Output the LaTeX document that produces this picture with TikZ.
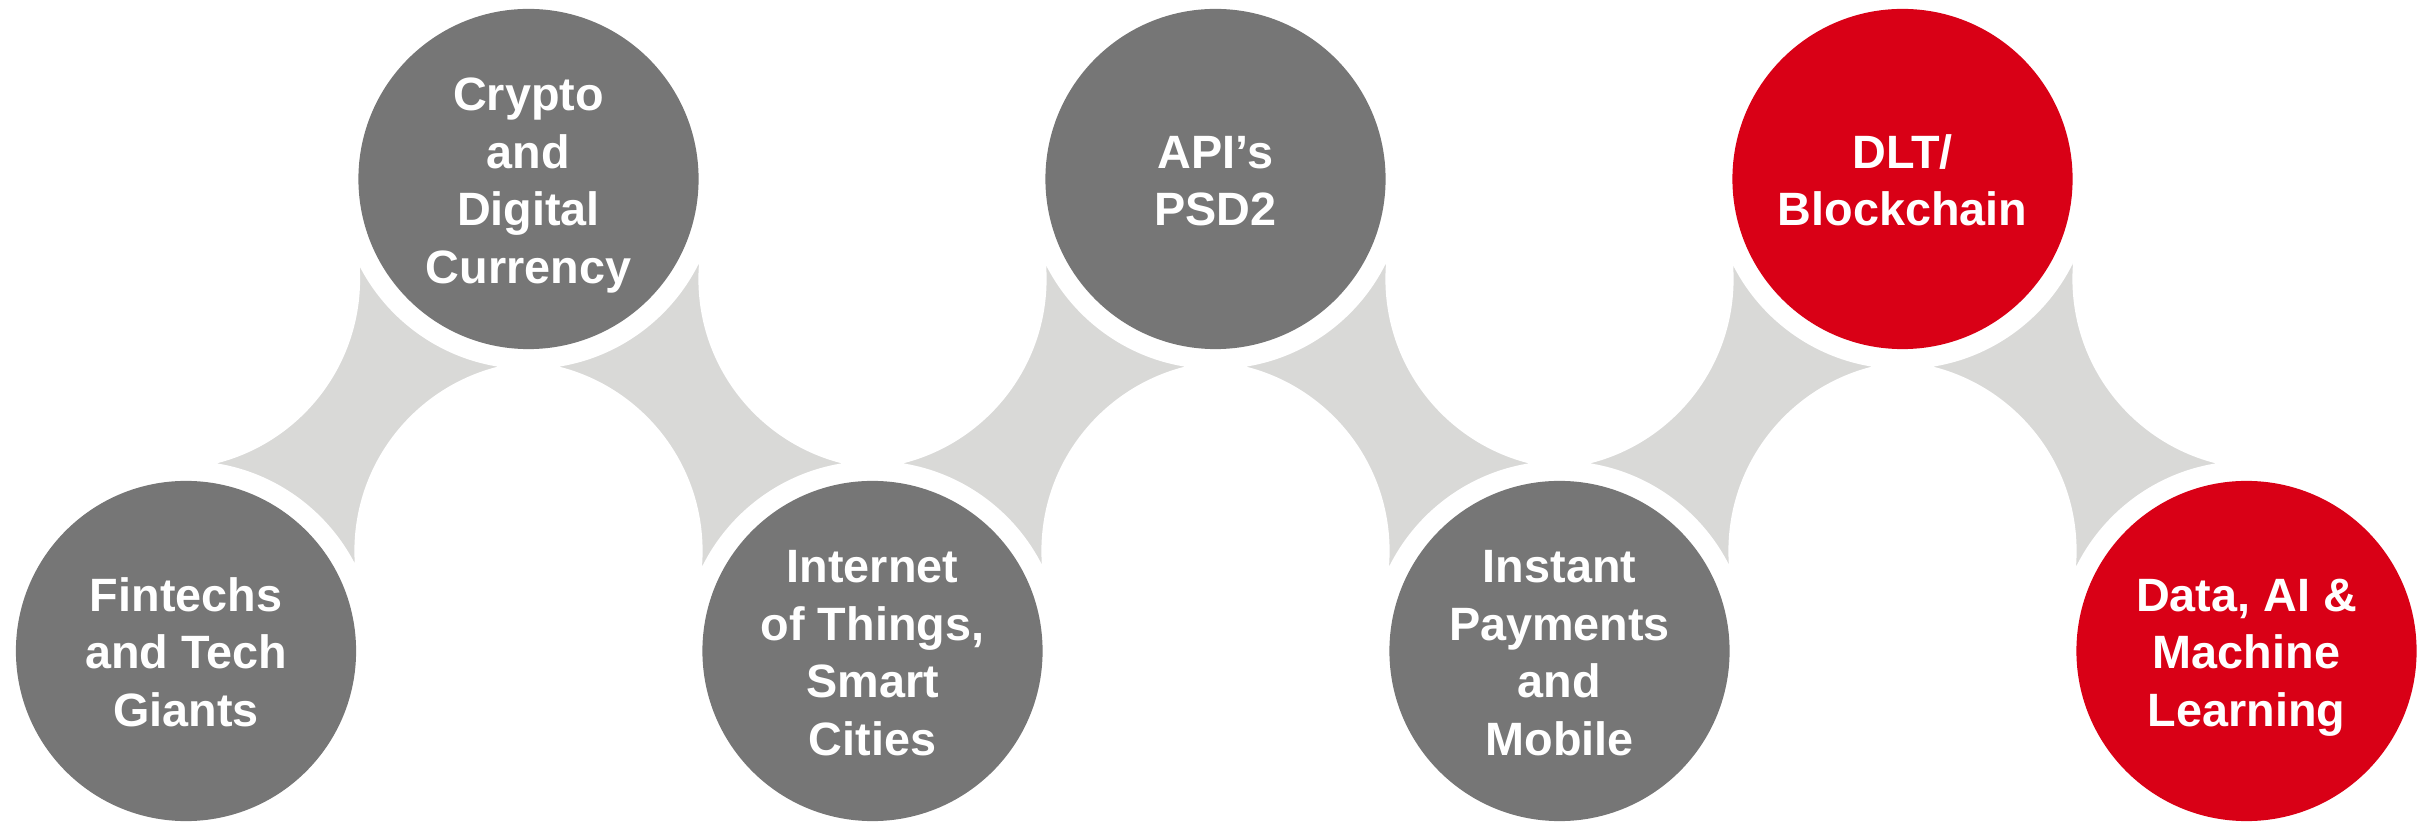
\documentclass[tikz,border=0pt]{standalone}
\usepackage{fontspec}
\setmainfont{Liberation Sans}
\usetikzlibrary{calc,backgrounds}
\definecolor{stagegray}{HTML}{767676}
\definecolor{stagered}{HTML}{D90016}
\definecolor{bandgray}{HTML}{D9D9D7}
% strut that keeps the text block centred on its baselines
\newcommand\tstrut{\rule[-0.19\baselineskip]{0pt}{\baselineskip}}
% grey band between a lower stage (#1) and an upper stage (#2);
% #3/#4 shift the two side circles that shape the concave edges,
% #5 is the turn (-90 or 90) towards the inside of the band
\newcommand\linkband[5]{%
  \coordinate (bA) at ($(#1.center)+(#3,-372)$);
  \coordinate (bC) at ($(#2.center)+(#4,372)$);
  \coordinate (tL) at ($(#1.center)!0.5!(bA)!0.34cm!#5:(bA)$);
  \coordinate (tT) at ($(bA)!0.5!(#2.center)!0.34cm!#5:(#2.center)$);
  \coordinate (tR) at ($(#2.center)!0.5!(bC)!0.34cm!#5:(bC)$);
  \coordinate (tB) at ($(bC)!0.5!(#1.center)!0.34cm!#5:(#1.center)$);
  \fill[bandgray] (tL) -- (tT) -- (tR) -- (tB) -- cycle;
  \begin{scope}
    \clip (#1.center) -- (bA) -- (#2.center) -- (bC) -- cycle;
    \fill[white] (#1.center) circle[radius=1.9cm] (bA) circle[radius=1.9cm]
                 (#2.center) circle[radius=1.9cm] (bC) circle[radius=1.9cm];
  \end{scope}}
\begin{document}
\begin{tikzpicture}[x=0.01cm,y=-0.01cm,
  stage/.style={circle, fill=stagegray, minimum size=3.4cm, inner sep=0pt,
    text=white, align=center, font=\bfseries\fontsize{13.3}{16.36}\selectfont},
  hotstage/.style={stage, fill=stagered}]
\useasboundingbox (0,0) rectangle (2433,822);

\node[stage] (fin) at (186,651) {\tstrut Fintechs\\and Tech\\Giants\tstrut};
\node[stage] (cry) at (528.5,179) {\tstrut Crypto\\and\\Digital\\Currency\tstrut};
\node[stage] (iot) at (872.5,651) {\tstrut Internet\\of Things,\\Smart\\Cities\tstrut};
\node[stage] (api) at (1215.5,179) {\tstrut API’s\\PSD2\tstrut};
\node[stage] (pay) at (1559.5,651) {\tstrut Instant\\Payments\\and\\Mobile\tstrut};
\node[hotstage] (dlt) at (1902.5,179) {\tstrut DLT/\\Blockchain\tstrut};
\node[hotstage] (dai) at (2246.5,651) {\tstrut Data, AI \&\\Machine\\Learning\tstrut};

\begin{scope}[on background layer]
  \linkband{fin}{cry}{-16}{16}{-90}
  \linkband{iot}{cry}{16}{-16}{90}
  \linkband{iot}{api}{-16}{16}{-90}
  \linkband{pay}{api}{16}{-16}{90}
  \linkband{pay}{dlt}{-16}{16}{-90}
  \linkband{dai}{dlt}{16}{-16}{90}
\end{scope}
\end{tikzpicture}
\end{document}
